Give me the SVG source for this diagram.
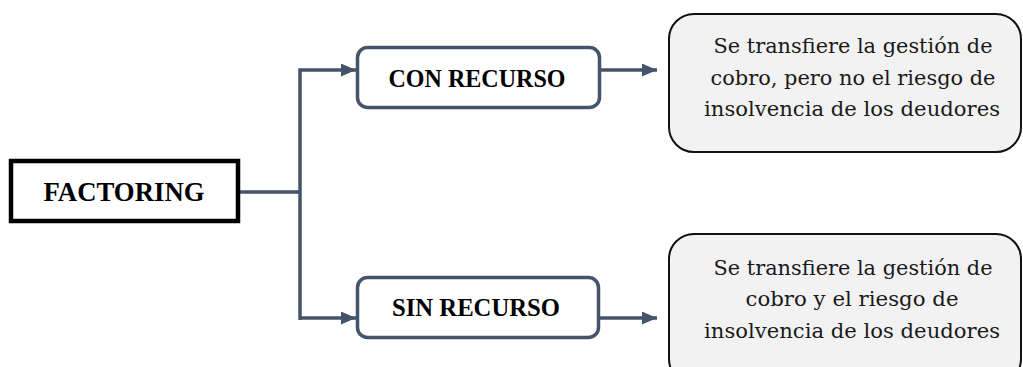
<svg xmlns="http://www.w3.org/2000/svg" width="1023" height="367" viewBox="0 0 1023 367">
<style>
.conn{fill:none;stroke:#44546A;stroke-width:3.5}
.mid{fill:#fff;stroke:#44546A;stroke-width:3.5}
.desc{fill:#F2F2F2;stroke:#111;stroke-width:2}
.lbl{font-family:"Liberation Serif",serif;font-weight:bold;fill:#000;text-anchor:middle}
.txt{font-family:"DejaVu Serif","Liberation Serif",serif;font-size:21px;fill:#1a1a1a;text-anchor:middle}
</style>
<defs>
<marker id="ah" markerWidth="15" markerHeight="13" refX="15" refY="6.5" orient="auto" markerUnits="userSpaceOnUse">
<polygon points="0,0 15,6.5 0,13" fill="#44546A"/>
</marker>
</defs>
<g id="connectors">
<path class="conn" d="M240 192 H300"/>
<path class="conn" d="M300 320 V70 H356" marker-end="url(#ah)"/>
<path class="conn" d="M300 318 H356" marker-end="url(#ah)"/>
<path class="conn" d="M601 70 H657" marker-end="url(#ah)"/>
<path class="conn" d="M600 318 H657" marker-end="url(#ah)"/>
</g>
<g id="factoring">
<rect x="11" y="161" width="227" height="60" fill="#fff" stroke="#000" stroke-width="4.5"/>
<text class="lbl" x="124" y="201" font-size="27" textLength="161" lengthAdjust="spacingAndGlyphs">FACTORING</text>
</g>
<g id="con-recurso">
<rect class="mid" x="357.5" y="47.5" width="242" height="60" rx="10"/>
<text class="lbl" x="477" y="87" font-size="26" textLength="177" lengthAdjust="spacingAndGlyphs">CON RECURSO</text>
</g>
<g id="sin-recurso">
<rect class="mid" x="357.5" y="277.5" width="241" height="60" rx="10"/>
<text class="lbl" x="476" y="316" font-size="26" textLength="168" lengthAdjust="spacingAndGlyphs">SIN RECURSO</text>
</g>
<g id="desc-con">
<rect class="desc" x="669" y="14" width="352" height="138" rx="25"/>
<text class="txt" x="853" y="53" textLength="279" lengthAdjust="spacingAndGlyphs">Se transfiere la gestión de</text>
<text class="txt" x="853" y="85" textLength="285" lengthAdjust="spacingAndGlyphs">cobro, pero no el riesgo de</text>
<text class="txt" x="852" y="116" textLength="296" lengthAdjust="spacingAndGlyphs">insolvencia de los deudores</text>
</g>
<g id="desc-sin">
<rect class="desc" x="669" y="234" width="352" height="150" rx="25"/>
<text class="txt" x="853" y="275" textLength="279" lengthAdjust="spacingAndGlyphs">Se transfiere la gestión de</text>
<text class="txt" x="852" y="306" textLength="213" lengthAdjust="spacingAndGlyphs">cobro y el riesgo de</text>
<text class="txt" x="852" y="338" textLength="296" lengthAdjust="spacingAndGlyphs">insolvencia de los deudores</text>
</g>
</svg>
